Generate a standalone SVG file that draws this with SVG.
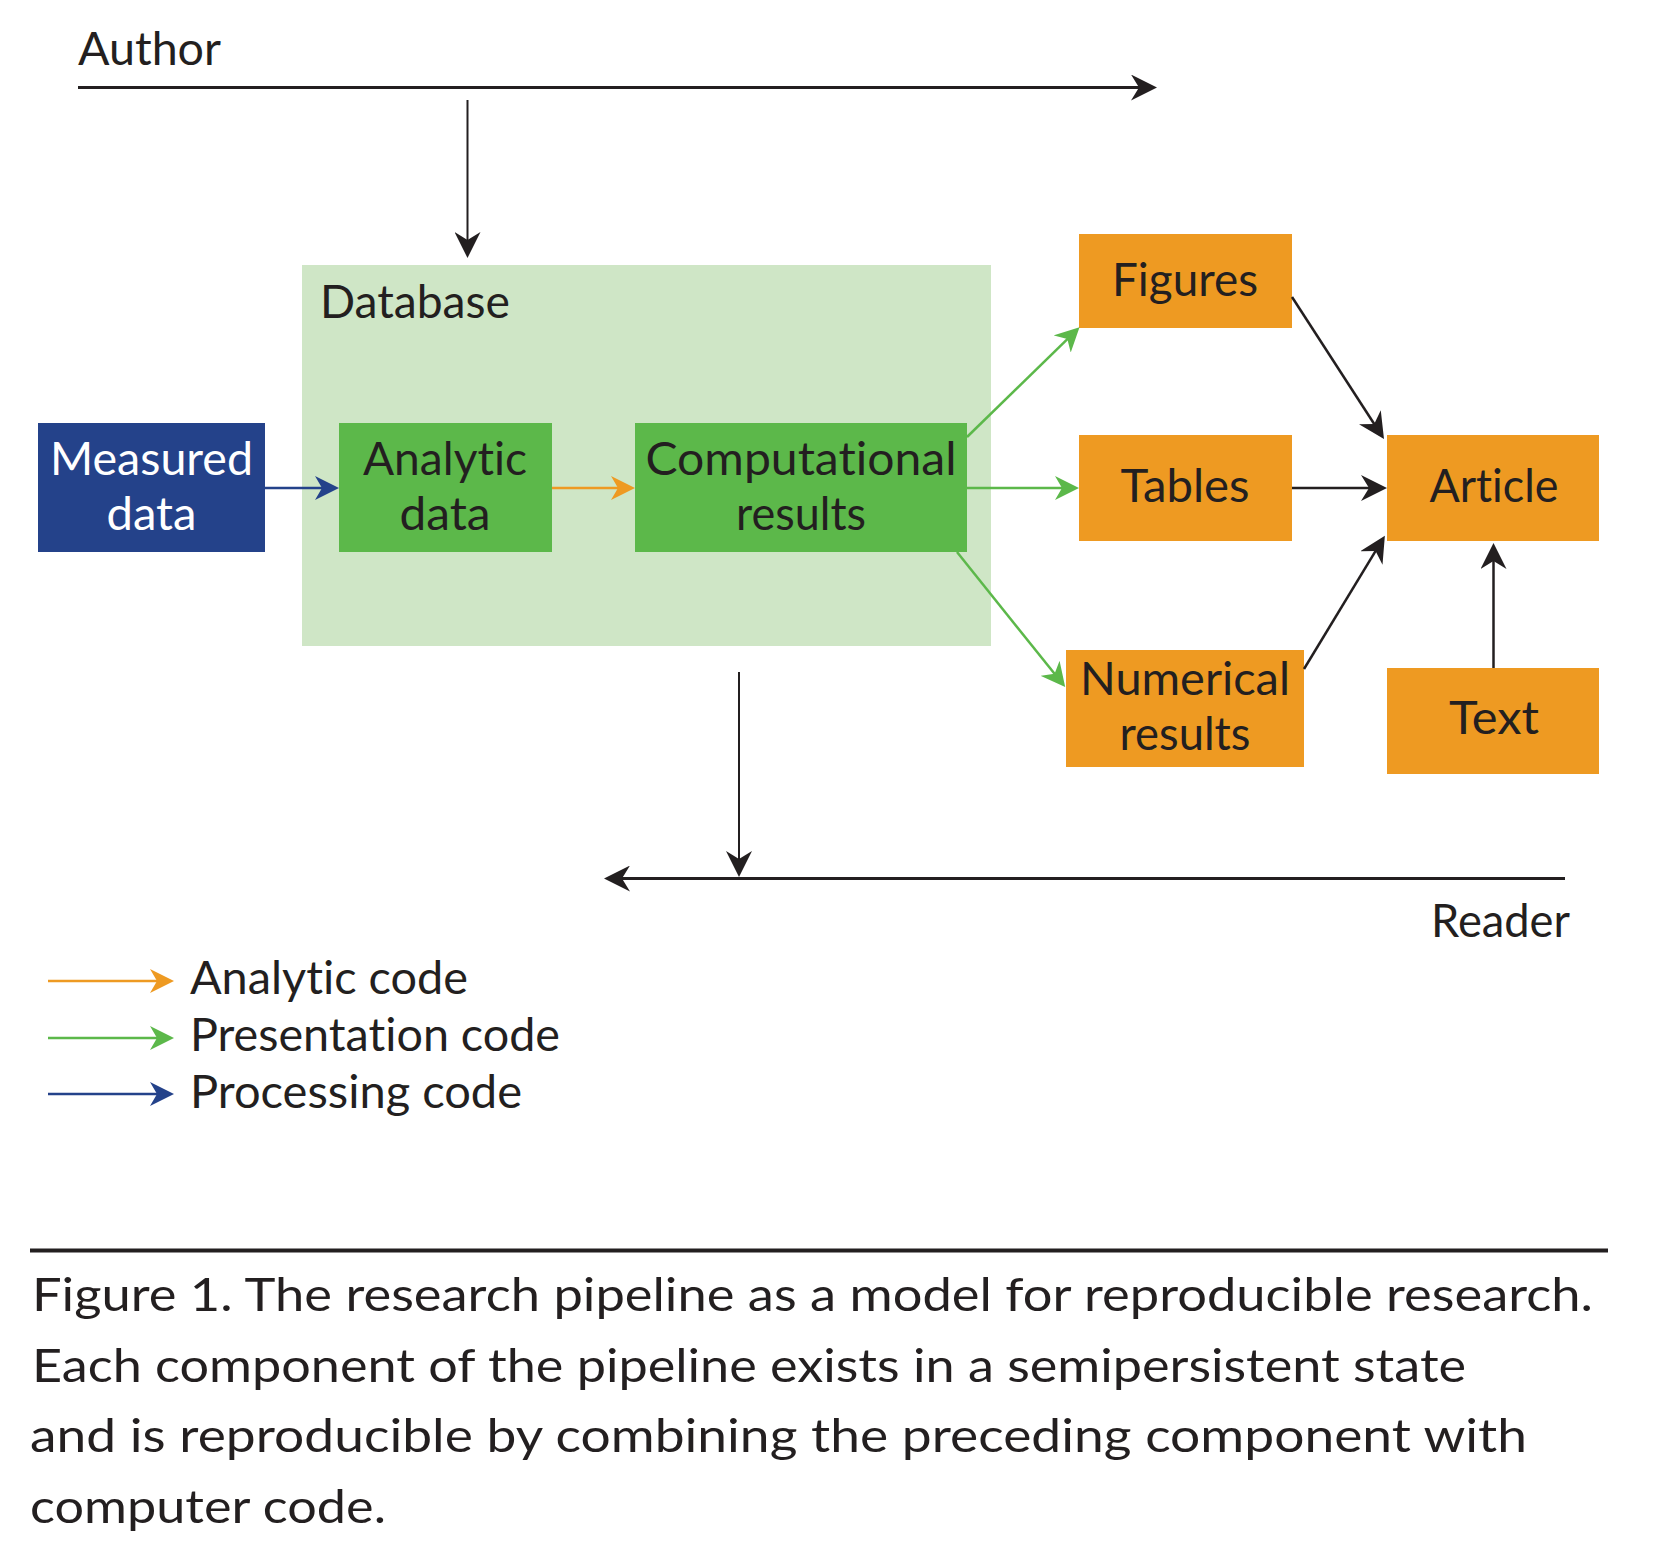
<svg xmlns="http://www.w3.org/2000/svg" width="1674" height="1566" viewBox="0 0 1674 1566">
<style>
text{font-family:Lato,"Open Sans","Liberation Sans",sans-serif;font-size:46px;fill:#231f20;font-variant-ligatures:none;font-feature-settings:"liga" 0,"dlig" 0}
.c{text-anchor:middle}
.w{fill:#ffffff}
.cap{font-size:47px}
.blk{stroke:#231f20;fill:none}
.grn{stroke:#5cb84a;fill:none;stroke-width:2.5}
.org{stroke:#ee9a22;fill:none;stroke-width:2.5}
.blu{stroke:#24428a;fill:none;stroke-width:2.5}
.orangebox{fill:#ee9a22}
.greenbox{fill:#5cb84a}
</style>
<defs>
<marker id="ah-black" viewBox="0 -13 26 26" refX="17" refY="0" markerWidth="26" markerHeight="26" markerUnits="userSpaceOnUse" orient="auto"><path d="M0,-13 L26,0 L0,13 L8,0 Z" fill="#231f20"/></marker>
<marker id="ah-green" viewBox="0 -12 24 24" refX="16" refY="0" markerWidth="24" markerHeight="24" markerUnits="userSpaceOnUse" orient="auto"><path d="M0,-12 L24,0 L0,12 L7,0 Z" fill="#5cb84a"/></marker>
<marker id="ah-orange" viewBox="0 -12 24 24" refX="16" refY="0" markerWidth="24" markerHeight="24" markerUnits="userSpaceOnUse" orient="auto"><path d="M0,-12 L24,0 L0,12 L7,0 Z" fill="#ee9a22"/></marker>
<marker id="ah-blue" viewBox="0 -12 24 24" refX="16" refY="0" markerWidth="24" markerHeight="24" markerUnits="userSpaceOnUse" orient="auto"><path d="M0,-12 L24,0 L0,12 L7,0 Z" fill="#24428a"/></marker>
</defs>
<rect width="1674" height="1566" fill="#ffffff"/>

<g id="database">
<rect x="302" y="265" width="689" height="381" fill="#cfe6c6"/>
<text x="320" y="318" textLength="190" lengthAdjust="spacingAndGlyphs">Database</text>
</g>

<g id="measured-data">
<rect x="38" y="423" width="227" height="129" fill="#24428a"/>
<text class="c w" x="151.5" y="475" textLength="203" lengthAdjust="spacingAndGlyphs">Measured</text>
<text class="c w" x="151.5" y="530" textLength="90" lengthAdjust="spacingAndGlyphs">data</text>
</g>

<g id="analytic-data">
<rect class="greenbox" x="339" y="423" width="213" height="129"/>
<text class="c" x="445" y="475" textLength="164" lengthAdjust="spacingAndGlyphs">Analytic</text>
<text class="c" x="445" y="530" textLength="91" lengthAdjust="spacingAndGlyphs">data</text>
</g>

<g id="computational-results">
<rect class="greenbox" x="635" y="423" width="332" height="129"/>
<text class="c" x="801" y="475" textLength="311" lengthAdjust="spacingAndGlyphs">Computational</text>
<text class="c" x="801" y="530" textLength="130" lengthAdjust="spacingAndGlyphs">results</text>
</g>

<g id="figures">
<rect class="orangebox" x="1079" y="234" width="213" height="94"/>
<text class="c" x="1185" y="296" textLength="146" lengthAdjust="spacingAndGlyphs">Figures</text>
</g>

<g id="tables">
<rect class="orangebox" x="1079" y="435" width="213" height="106"/>
<text class="c" x="1185" y="502" textLength="129" lengthAdjust="spacingAndGlyphs">Tables</text>
</g>

<g id="numerical-results">
<rect class="orangebox" x="1066" y="650" width="238" height="117"/>
<text class="c" x="1185" y="695" textLength="210" lengthAdjust="spacingAndGlyphs">Numerical</text>
<text class="c" x="1185" y="750" textLength="131" lengthAdjust="spacingAndGlyphs">results</text>
</g>

<g id="article">
<rect class="orangebox" x="1387" y="435" width="212" height="106"/>
<text class="c" x="1494" y="502" textLength="129" lengthAdjust="spacingAndGlyphs">Article</text>
</g>

<g id="text-node">
<rect class="orangebox" x="1387" y="668" width="212" height="106"/>
<text class="c" x="1494" y="734" textLength="90" lengthAdjust="spacingAndGlyphs">Text</text>
</g>

<g id="author">
<text x="78" y="65" textLength="143" lengthAdjust="spacingAndGlyphs">Author</text>
</g>

<g id="reader">
<text x="1431" y="937" textLength="139" lengthAdjust="spacingAndGlyphs">Reader</text>
</g>

<g id="connectors">
<line class="blk" x1="78" y1="87.5" x2="1148" y2="87.5" stroke-width="3" marker-end="url(#ah-black)"/>
<line class="blk" x1="467.5" y1="100" x2="467.5" y2="249" stroke-width="2" marker-end="url(#ah-black)"/>
<line class="blu" x1="265" y1="488" x2="331" y2="488" marker-end="url(#ah-blue)"/>
<line class="org" x1="552" y1="488" x2="627" y2="488" marker-end="url(#ah-orange)"/>
<line class="grn" x1="967" y1="437" x2="1073.8" y2="332.8" marker-end="url(#ah-green)"/>
<line class="grn" x1="967" y1="488" x2="1071" y2="488" marker-end="url(#ah-green)"/>
<line class="grn" x1="957" y1="552" x2="1060.2" y2="680.8" marker-end="url(#ah-green)"/>
<line class="blk" x1="1292" y1="297" x2="1379.1" y2="431.5" stroke-width="2.5" marker-end="url(#ah-black)"/>
<line class="blk" x1="1292" y1="488" x2="1378" y2="488" stroke-width="2.5" marker-end="url(#ah-black)"/>
<line class="blk" x1="1304" y1="669" x2="1380.2" y2="543.4" stroke-width="2.5" marker-end="url(#ah-black)"/>
<line class="blk" x1="1493.5" y1="668" x2="1493.5" y2="552" stroke-width="2.5" marker-end="url(#ah-black)"/>
<line class="blk" x1="1565" y1="878.5" x2="613" y2="878.5" stroke-width="3" marker-end="url(#ah-black)"/>
<line class="blk" x1="739" y1="672" x2="739" y2="868" stroke-width="2" marker-end="url(#ah-black)"/>
</g>

<g id="legend">
<line class="org" x1="48" y1="981" x2="166" y2="981" stroke-width="3" marker-end="url(#ah-orange)"/>
<line class="grn" x1="48" y1="1038" x2="166" y2="1038" stroke-width="3" marker-end="url(#ah-green)"/>
<line class="blu" x1="48" y1="1094" x2="166" y2="1094" stroke-width="3" marker-end="url(#ah-blue)"/>
<text x="190" y="994" textLength="278" lengthAdjust="spacingAndGlyphs">Analytic code</text>
<text x="190" y="1051" textLength="370" lengthAdjust="spacingAndGlyphs">Presentation code</text>
<text x="190" y="1108" textLength="332" lengthAdjust="spacingAndGlyphs">Processing code</text>
</g>

<g id="caption">
<rect x="30" y="1248.5" width="1578" height="4" fill="#231f20"/>
<text class="cap" x="32" y="1311" textLength="1561" lengthAdjust="spacingAndGlyphs">Figure 1. The research pipeline as a model for reproducible research.</text>
<text class="cap" x="32" y="1382" textLength="1434" lengthAdjust="spacingAndGlyphs">Each component of the pipeline exists in a semipersistent state</text>
<text class="cap" x="30" y="1452" textLength="1497" lengthAdjust="spacingAndGlyphs">and is reproducible by combining the preceding component with</text>
<text class="cap" x="30" y="1523" textLength="356" lengthAdjust="spacingAndGlyphs">computer code.</text>
</g>
</svg>
